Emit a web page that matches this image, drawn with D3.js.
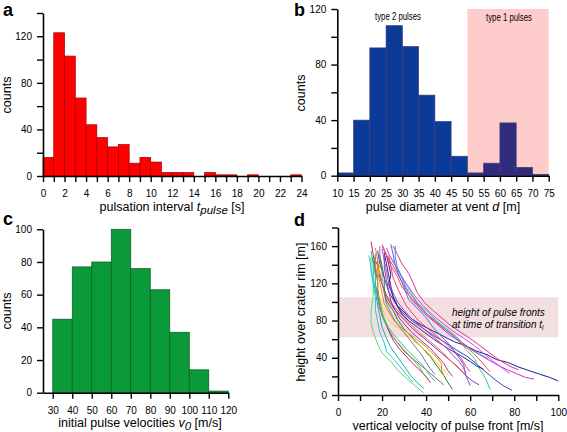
<!DOCTYPE html>
<html><head><meta charset="utf-8">
<script src="https://cdn.jsdelivr.net/npm/d3@7"></script>
<style>
body{margin:0;background:#fff;}
svg{display:block;font-family:"Liberation Sans",Arial,sans-serif;}
.tick text{font-size:10px;fill:#000;}
</style></head><body>
<svg id="c" width="567" height="432"></svg>
<script>
// ---------- DATA ----------
// Panel a: pulsation interval histogram, 1 s bins 0..24
const aBinStart = [0,1,2,3,4,5,6,7,8,9,10,11,12,13,14,15,16,17,18,19,20,21,22,23];
const aCounts   = [16,123,103,67,44,33,25,27,11,16,12,3,3,3,0,3,1,1,0,1,0,0,0,1];
const aXTicks = [0,2,4,6,8,10,12,14,16,18,20,22,24];
const aYTicks = [0,40,80,120];

// Panel b: pulse diameter histogram, 5 m bins 10..75
const bBinStart = [10,15,20,25,30,35,40,45,50,55,60,65,70];
const bCounts   = [2,40,92,108,93,58,39,14,2,9,38,6,1];
const bXTicks = [10,15,20,25,30,35,40,45,50,55,60,65,70,75];
const bYTicks = [0,40,80,120];
const bType1Range = [50,75];

// Panel c: initial velocities histogram, 10 m/s bins 30..120
const cBinStart = [30,40,50,60,70,80,90,100,110];
const cCounts   = [45,77,80,100,76,63,37,14,1];
const cXTicks = [30,40,50,60,70,80,90,100,110,120];
const cYTicks = [0,20,40,60,80,100];

// Panel d: height vs vertical velocity tracks [velocity, height]
const dXTicks = [0,20,40,60,80,100];
const dYTicks = [0,40,80,120,160];
const dBand = [62,105];
const trackColors = ["#1c1c8a","#cc33cc","#3344cc","#33cc99","#ff5533","#dd3399","#8833bb","#ff6633",
  "#1f7a3a","#8a6a4a","#ffcc11","#cc2288","#22aaaa","#55dd77","#22cccc","#5566ee","#dd44dd",
  "#2a2a9a","#ee8800","#66bb44","#aa44cc","#ff3377","#4488dd","#777799","#33bbaa","#993399"];
const track01 = [[22,150],[23,141],[24,129],[23,119],[25,106],[27,96],[30,89],[34,81],[38,75],[43,69],[48,63],[53,57],[58,53],[63,47],[68,43],[72,38],[77,35],[82,30],[87,26],[92,22],[96,19],[100,15]];
const track02 = [[20,160],[22,150],[25,139],[28,126],[31,113],[33,104],[37,93],[41,84],[46,74],[51,64],[56,56],[61,48],[66,41],[71,34],[76,28],[81,23],[85,19],[89,17]];
const track03 = [[18,155],[19,141],[21,126],[23,111],[26,99],[29,89],[34,79],[39,71],[44,63],[49,56],[54,48],[59,41],[63,33],[67,25],[71,17],[75,10],[79,5]];
const track04 = [[24,148],[27,136],[30,123],[33,111],[36,99],[41,89],[45,79],[50,70],[55,60],[58,49],[62,39],[64,29],[67,18],[69,6]];
const track05 = [[20,162],[22,151],[24,139],[27,127],[29,116],[33,105],[37,95],[41,85],[46,75],[52,65],[56,55],[61,46],[65,36],[69,25]];
const track06 = [[25,160],[27,151],[29,141],[32,131],[34,121],[36,110],[39,100],[43,91],[47,83],[51,75],[56,67],[61,59],[65,52],[69,45],[73,38],[78,31],[82,27]];
const track07 = [[16,150],[18,139],[19,126],[21,113],[23,101],[26,91],[30,81],[34,71],[39,61],[44,51],[49,41],[54,31],[58,21],[61,15],[64,11]];
const track08 = [[17,158],[18,145],[19,131],[20,119],[22,107],[25,96],[29,86],[33,76],[37,67],[42,57],[47,47],[51,37],[55,28],[59,19]];
const track09 = [[19,150],[20,138],[21,126],[21,113],[22,101],[25,91],[27,81],[30,71],[34,61],[38,51],[42,41],[45,31],[48,21],[50,13],[52,6]];
const track10 = [[16,145],[17,131],[17,119],[18,107],[19,96],[20,85],[22,75],[24,65],[27,56],[30,47],[34,39],[38,31],[42,23],[45,17],[48,11]];
const track11 = [[19,140],[18,128],[18,115],[19,103],[20,93],[22,83],[25,76],[29,69],[33,61],[37,53],[41,45],[44,37],[47,29],[50,21]];
const track12 = [[15,165],[16,151],[17,136],[18,121],[18,106],[19,93],[21,81],[23,69],[25,59],[28,49],[32,39],[36,29],[40,20],[42,13]];
const track13 = [[15,155],[16,141],[16,126],[17,111],[18,97],[19,85],[20,73],[22,61],[24,51],[27,41],[30,31],[33,21],[36,13],[39,7]];
const track14 = [[14,150],[15,136],[16,121],[16,106],[15,91],[15,79],[16,67],[18,55],[20,45],[24,36],[27,27],[31,18],[35,10],[39,2]];
const track15 = [[15,148],[15,133],[16,119],[17,105],[17,91],[18,79],[19,67],[21,56],[22,47],[25,39],[28,31],[31,22],[34,14]];
const track16 = [[24,162],[25,151],[26,139],[28,127],[30,115],[32,103],[36,93],[40,83],[43,73],[47,63],[51,53],[54,43],[57,33],[58,21],[60,10]];
const track17 = [[22,158],[24,147],[27,135],[30,123],[33,113],[36,103],[39,95],[43,86],[47,78],[52,69],[57,61],[62,53],[66,45],[70,37],[74,30],[78,23]];
const track18 = [[21,153],[22,141],[23,129],[24,117],[25,105],[27,95],[29,87],[32,80],[36,73],[40,66],[44,59],[48,53],[52,47],[56,42],[60,36],[63,31],[66,28]];
const track19 = [[18,146],[18,133],[19,121],[20,109],[21,98],[23,89],[25,81],[28,74],[31,68],[35,61],[39,54],[42,47],[45,40],[47,33],[47,26],[48,22]];
const track20 = [[17,152],[17,139],[18,126],[18,113],[19,101],[20,90],[21,80],[23,71],[25,62],[28,54],[31,46],[34,38],[37,30],[39,22],[41,16]];
const track21 = [[20,157],[21,145],[22,133],[23,121],[25,110],[27,100],[30,91],[33,83],[37,75],[41,67],[45,59],[49,51],[52,43],[55,36],[57,29],[58,23]];
const track22 = [[23,150],[24,138],[25,126],[27,115],[29,105],[31,96],[34,87],[37,79],[41,71],[45,63],[49,55],[53,47],[56,39],[58,31],[60,25]];
const track23 = [[26,160],[26,148],[27,137],[29,126],[31,115],[34,105],[37,96],[40,88],[44,80],[48,72],[52,64],[56,57],[60,50],[64,44],[68,39]];
const track24 = [[19,160],[19,147],[20,134],[20,121],[21,109],[22,98],[24,88],[26,79],[29,70],[32,61],[35,52],[38,43],[40,35],[42,28],[44,22]];
const track25 = [[16,140],[17,128],[17,116],[18,104],[19,93],[21,82],[23,72],[26,63],[29,55],[32,47],[35,40],[38,33],[40,27],[42,20],[44,15]];
const track26 = [[21,150],[21,137],[22,124],[23,112],[24,101],[26,91],[28,82],[31,74],[34,66],[38,58],[42,50],[45,42],[48,34],[50,26],[52,20]];
const tracks = [track01,track02,track03,track04,track05,track06,track07,track08,track09,track10,track11,track12,track13,
  track14,track15,track16,track17,track18,track19,track20,track21,track22,track23,track24,track25,track26];

// ---------- DRAW ----------
const svg = d3.select("#c");

function styleAxis(g){
  g.select(".domain").attr("stroke","#000").attr("stroke-width",1.6);
  g.selectAll(".tick line").attr("stroke","#000").attr("stroke-width",1.4);
  g.selectAll(".tick text").attr("font-family","Liberation Sans, Arial, sans-serif").attr("font-size",10);
}

function axes(x, y, xTicksAll, xLabels, yTicksAll, yLabels){
  const gx = svg.append("g").attr("transform",`translate(0,${y.range()[0]})`)
    .call(d3.axisBottom(x).tickValues(xTicksAll).tickSize(6).tickSizeOuter(0).tickPadding(8)
      .tickFormat(d=> xLabels.includes(d)? d : ""));
  styleAxis(gx);
  const gy = svg.append("g").attr("transform",`translate(${x.range()[0]},0)`)
    .call(d3.axisLeft(y).tickValues(yTicksAll).tickSize(6).tickSizeOuter(0).tickPadding(5)
      .tickFormat(d=> yLabels.includes(d)? d : ""));
  styleAxis(gy);
}

function hist(x, y, starts, counts, width, fill, stroke){
  svg.append("g").selectAll("rect").data(starts).join("rect")
    .attr("x", (d)=>x(d)).attr("width",(d)=>x(d+width)-x(d))
    .attr("y",(d,i)=>y(counts[i])).attr("height",(d,i)=>y(0)-y(counts[i]))
    .attr("fill", typeof fill==="function"? (d)=>fill(d) : fill)
    .attr("stroke",stroke).attr("stroke-width",0.7);
}

function label(txt, x, y, opts={}){
  const t = svg.append("text").attr("x",x).attr("y",y).attr("font-size",opts.size||12)
    .attr("text-anchor",opts.anchor||"middle").attr("fill","#000");
  if(txt) t.text(txt);
  if(opts.bold) t.attr("font-weight","bold");
  if(opts.italic) t.attr("font-style","italic");
  if(opts.family) t.attr("font-family",opts.family);
  if(opts.len) t.attr("textLength",opts.len).attr("lengthAdjust","spacingAndGlyphs");
  if(opts.rotate) t.attr("transform",`rotate(-90,${x},${y})`);
  return t;
}

const range = (a,b,s)=>d3.range(a,b+s/2,s);

// ----- Panel a -----
{
  const x = d3.scaleLinear().domain([0,24]).range([43,301.5]);
  const y = d3.scaleLinear().domain([0,140]).range([176,13]);
  hist(x,y,aBinStart,aCounts,1,"#ff0000","#a00000");
  axes(x,y,range(0,24,1),aXTicks,range(0,140,20),aYTicks);
  const t = label("",172,211,{size:12.5});
  t.append("tspan").text("pulsation interval ");
  t.append("tspan").attr("font-style","italic").text("t");
  t.append("tspan").attr("font-style","italic").attr("font-size",11.5).attr("dy",3).text("pulse");
  t.append("tspan").attr("dy",-3).text(" [s]");
  label("counts",10.5,95,{rotate:true,size:12.5});
  label("a",3,16,{anchor:"start",bold:true,size:18});
}

// ----- Panel b -----
{
  const x = d3.scaleLinear().domain([10,75]).range([337.3,548.7]);
  const y = d3.scaleLinear().domain([0,120]).range([175.7,9]);
  svg.append("rect").attr("x",x(bType1Range[0])).attr("width",x(bType1Range[1])-x(bType1Range[0]))
    .attr("y",y(120)).attr("height",y(0)-y(120)).attr("fill","#ffcccc");
  hist(x,y,bBinStart,bCounts,5,(d)=> d>=bType1Range[0] ? "#2f2c7e" : "#0b3a99","#3a3f7a");
  axes(x,y,bXTicks,bXTicks,range(0,120,20),bYTicks);
  label("type 2 pulses",398,20,{size:10.5,len:46});
  label("type 1 pulses",509,21,{size:10.5,len:46});
  const t = label("",443,211,{size:12.5});
  t.append("tspan").text("pulse diameter at vent ");
  t.append("tspan").attr("font-style","italic").text("d");
  t.append("tspan").text(" [m]");
  label("counts",305,93,{rotate:true,size:12.5});
  label("b",294,16,{anchor:"start",bold:true,size:18});
}

// ----- Panel c -----
{
  const x = d3.scaleLinear().domain([25,120]).range([43,228.3]);
  const y = d3.scaleLinear().domain([0,100]).range([392.7,229.3]);
  hist(x,y,cBinStart,cCounts,10,"#0a9a3a","#0b5a25");
  axes(x,y,cXTicks,cXTicks,cYTicks,cYTicks);
  const t = label("",140,427,{size:12.5});
  t.append("tspan").text("initial pulse velocities ");
  t.append("tspan").attr("font-style","italic").text("v");
  t.append("tspan").attr("font-style","italic").attr("font-size",11.5).attr("dy",3).text("0");
  t.append("tspan").attr("dy",-3).text(" [m/s]");
  label("counts",10.5,311,{rotate:true,size:12.5});
  label("c",3,225,{anchor:"start",bold:true,size:18});
}

// ----- Panel d -----
{
  const x = d3.scaleLinear().domain([0,100]).range([338,558.3]);
  const y = d3.scaleLinear().domain([0,180]).range([395,227.5]);
  svg.append("rect").attr("x",x(0)).attr("width",x(100)-x(0))
    .attr("y",y(dBand[1])).attr("height",y(dBand[0])-y(dBand[1])).attr("fill","#f3dfe2");
  const line = d3.line().x(d=>x(d[0])).y(d=>y(d[1]));
  svg.append("g").selectAll("path").data(tracks).join("path")
    .attr("d",line).attr("fill","none").attr("stroke",(d,i)=>trackColors[i%trackColors.length])
    .attr("stroke-width",1);
  axes(x,y,range(0,100,10),dXTicks,range(0,180,20),dYTicks);
  label("height of pulse fronts",452,316,{anchor:"start",italic:true,size:10});
  const t = label("",452,328,{anchor:"start",italic:true,size:10});
  t.append("tspan").text("at time of transition t");
  t.append("tspan").attr("font-size",7).attr("dy",2).text("i");
  label("vertical velocity of pulse front [m/s]",448,430,{size:12.5});
  label("height over crater rim [m]",305,312,{rotate:true,size:12.5});
  label("d",294,226,{anchor:"start",bold:true,size:18});
}
</script>
</body></html>
